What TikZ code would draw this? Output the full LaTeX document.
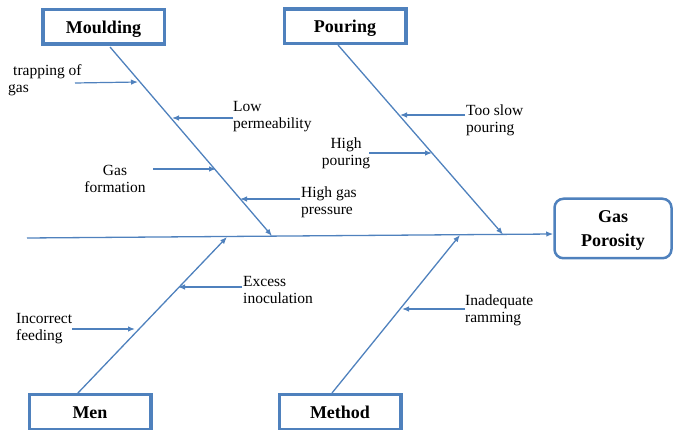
\documentclass[tikz,border=0pt]{standalone}
\usepackage{fontspec}
\setmainfont{Liberation Serif}
\usetikzlibrary{arrows.meta,calc}
\definecolor{bl}{RGB}{79,129,189}
\begin{document}
\begin{tikzpicture}[x=1pt,y=-1pt,
  bone/.style={draw=bl, line width=1.3pt, -{Latex[length=7pt,width=5.5pt]}},
  subarrow/.style={draw=bl, line width=1.2pt, -{Latex[length=7pt,width=5.5pt]}},
  catbox/.style={draw=bl, line width=3.5pt, minimum width=121.5pt, minimum height=34.5pt, inner sep=0pt, text height=13pt, text depth=0pt, font=\fontsize{18}{20}\selectfont\bfseries},
  effbox/.style={draw=bl, line width=2.5pt, rounded corners=9pt, minimum width=117pt, minimum height=59.5pt, inner sep=0pt},
  efftext/.style={inner sep=0pt, align=center, font=\fontsize{18}{24}\selectfont\bfseries},
  lbl/.style={inner sep=0pt, font=\fontsize{15.5}{17}\selectfont}
]
\useasboundingbox (0,0) rectangle (673,430);
% category boxes
\node[catbox] (mo) at (103.5,27) {Moulding};
\node[catbox] (po) at (345,26.5) {Pouring};
\node[catbox, minimum height=35pt] (me) at (90,412) {Men};
\node[catbox, minimum height=35pt] (mt) at (340,412) {Method};
\node[effbox] (gp) at (613,228.5) {};
\node[efftext, anchor=base] (gpt) at (613,247) {Gas\\Porosity};
% spine
\coordinate (sp0) at (27,238);
\draw[bone] (sp0) -- ($(gp.west)+(0,5.5)$);
% bone coordinates
\coordinate (mA) at (110,47);  \coordinate (mB) at (272,236);
\coordinate (pA) at (338,45);  \coordinate (pB) at (503,234.5);
\coordinate (nA) at (77,394);  \coordinate (nB) at (227,237);
\coordinate (tA) at (332,393); \coordinate (tB) at (460,235);
\draw[bone] (mA) -- (mB);
\draw[bone] (pA) -- (pB);
\draw[bone] (nA) -- (nB);
\draw[bone] (tA) -- (tB);
% labels (anchor = baseline of last line)
\node[lbl, anchor=base west, align=left] (l1) at (8,93) {\hspace{5pt}trapping of\\gas};
\node[lbl, anchor=base west, align=left] (l2) at (233,129) {Low\\permeability};
\node[lbl, anchor=base, align=center] (l3) at (115,193) {Gas\\formation};
\node[lbl, anchor=base west, align=left] (l4) at (301,215) {High gas\\pressure};
\node[lbl, anchor=base west, align=left] (l5) at (466,133) {Too slow\\pouring};
\node[lbl, anchor=base, align=center] (l6) at (346,166) {High\\pouring};
\node[lbl, anchor=base west, align=left] (l7) at (243,304) {Excess\\inoculation};
\node[lbl, anchor=base west, align=left] (l8) at (16,341) {Incorrect\\feeding};
\node[lbl, anchor=base west, align=left] (l9) at (465,323) {Inadequate\\ramming};
% sub-cause arrow coordinates
\coordinate (a1) at (75,83);   \coordinate (b1) at (138,82);
\coordinate (a2) at (233,118); \coordinate (b2) at (172,118);
\coordinate (a3) at (153,169); \coordinate (b3) at (216,169);
\coordinate (a4) at (300,199); \coordinate (b4) at (240,199);
\coordinate (a5) at (465,115); \coordinate (b5) at (400,115);
\coordinate (a6) at (369,153); \coordinate (b6) at (432,153);
\coordinate (a7) at (242,287); \coordinate (b7) at (178,287);
\coordinate (a8) at (72,329);  \coordinate (b8) at (135,329);
\coordinate (a9) at (465,309); \coordinate (b9) at (402,309);
\foreach \i in {1,...,9} \draw[subarrow] (a\i) -- (b\i);
\end{tikzpicture}
\end{document}
